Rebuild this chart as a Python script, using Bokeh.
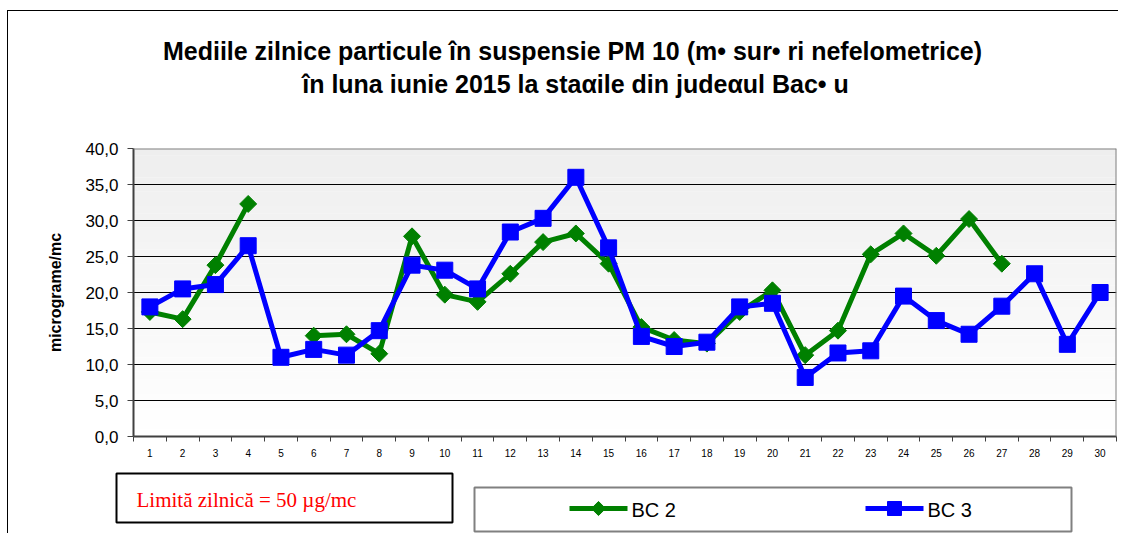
import math
from bokeh.plotting import figure
from bokeh.layouts import column, row
from bokeh.models import Range1d, FixedTicker, CustomJSTickFormatter, BoxAnnotation, Span
from bokeh.core.properties import value
from bokeh.embed import file_html
from bokeh.resources import INLINE

nan = float("nan")

# ---- data ----
days = list(range(1, 31))
x_labels = [str(d) for d in days]
bc2 = [17.3, 16.3, 23.8, 32.3, nan, 14.0, 14.2, 11.5, 27.8, 19.7,
       18.7, 22.6, 27.0, 28.2, 24.0, 15.2, 13.4, 12.9, 17.3, 20.3,
       11.3, 14.7, 25.3, 28.2, 25.1, 30.2, 24.0, nan, nan, nan]
bc3 = [18.0, 20.5, 21.1, 26.5, 11.0, 12.1, 11.3, 14.7, 23.8, 23.1,
       20.5, 28.4, 30.3, 36.0, 26.2, 13.9, 12.5, 13.1, 18.0, 18.5,
       8.2, 11.6, 11.9, 19.5, 16.1, 14.2, 18.1, 22.6, 12.8, 20.0]
y_ticks = [0, 5, 10, 15, 20, 25, 30, 35, 40]
series_names = ["BC 2", "BC 3"]
title1 = "Mediile zilnice particule în suspensie PM 10 (m\u2022 sur\u2022 ri nefelometrice)"
title2 = "în luna iunie 2015 la staαile din judeαul Bac\u2022 u"
y_title = "micrograme/mc"
limit_text = "Limită zilnică = 50 µg/mc"

GREEN = "#008000"
BLUE = "#0000ff"
FONT = "Liberation Sans"
W = 1110
# page geometry: column offset (margin 7 + border 1)
OFF_X, OFF_Y = 8, 11
FRAME_L, FRAME_R = 133, 1116


def strip_fig(top, bottom, left, right):
    # a decoration strip whose ranges are page pixel coordinates
    f = figure(width=W, height=bottom - top, x_range=Range1d(left, right),
               y_range=Range1d(bottom, top), x_axis_type=None, y_axis_type=None,
               output_backend="svg", toolbar_location=None, min_border=0)
    f.outline_line_color = None
    f.background_fill_color = "white"
    f.border_fill_color = "white"
    return f


# ---- title strip (frame aligned with the chart frame) ----
TOP_A = 100
pC = strip_fig(OFF_Y, TOP_A, FRAME_L, FRAME_R)
pC.text(x=[572, 575], y=[50.7, 83.3], text=[title1, title2], text_font=value(FONT),
        text_font_size="25px", text_font_style="bold", text_color="black",
        text_align="center", text_baseline="alphabetic")

# ---- main chart ----
HA = 366
y0, y1 = y_ticks[0], y_ticks[-1]
x0, x1 = days[0] - 0.5, days[-1] + 0.5
pA = figure(width=W, height=HA, x_range=Range1d(x0, x1), y_range=Range1d(y0, y1),
            output_backend="svg", toolbar_location=None,
            min_border_left=FRAME_L - OFF_X, min_border_right=W - (FRAME_R - OFF_X),
            min_border_top=148 - TOP_A, min_border_bottom=TOP_A + HA - 436)
pA.outline_line_color = None
pA.background_fill_color = "white"
pA.border_fill_color = "white"

# gradient background
n = 40
for i in range(n):
    lo = y0 + (y1 - y0) * i / n
    hi = y0 + (y1 - y0) * (i + 1) / n
    frac = (i + 0.5) / n
    c = int(round(255 - (255 - 238) * frac))
    pA.add_layout(BoxAnnotation(bottom=lo, top=hi, fill_color="#%02x%02x%02x" % (c, c, c),
                                fill_alpha=1, line_color=None, level="image"))

pA.xgrid.visible = False
pA.ygrid.ticker = FixedTicker(ticks=y_ticks[1:-1])
pA.ygrid.grid_line_color = "black"
pA.ygrid.grid_line_width = 1

# frame top / right edges
pA.add_layout(Span(location=y1, dimension="width", line_color="#808080", line_width=2))
pA.add_layout(Span(location=x1, dimension="height", line_color="#808080", line_width=2))

pA.line(days, bc2, line_color=GREEN, line_width=5, line_join="round")
pA.scatter(days, bc2, marker="square", angle=math.pi / 4, size=12,
           fill_color=GREEN, line_color=GREEN)
pA.line(days, bc3, line_color=BLUE, line_width=5, line_join="round")
pA.scatter(days, bc3, marker="square", size=16, fill_color=BLUE, line_color=BLUE)

xa = pA.xaxis[0]
xa.ticker = FixedTicker(ticks=days, minor_ticks=[d - 0.5 for d in days] + [days[-1] + 0.5])
xa.major_label_overrides = {d: s for d, s in zip(days, x_labels)}
xa.major_tick_line_color = None
xa.major_tick_in = 0
xa.major_tick_out = 0
xa.minor_tick_in = 0
xa.minor_tick_out = 5
xa.minor_tick_line_color = "#404040"
xa.axis_line_color = "#404040"
xa.axis_line_width = 2
xa.major_label_standoff = 7
xa.major_label_text_font = FONT
xa.major_label_text_font_size = "10px"
xa.major_label_text_color = "black"

ya = pA.yaxis[0]
ya.ticker = FixedTicker(ticks=y_ticks)
ya.formatter = CustomJSTickFormatter(code="return tick.toFixed(1).replace('.', ',');")
ya.major_tick_in = 0
ya.major_tick_out = 6
ya.major_tick_line_color = "#404040"
ya.minor_tick_line_color = None
ya.axis_line_color = "#404040"
ya.axis_line_width = 2
ya.major_label_standoff = 9
ya.major_label_text_font = FONT
ya.major_label_text_font_size = "17px"
ya.major_label_text_color = "black"
ya.axis_label = y_title
ya.axis_label_text_font = FONT
ya.axis_label_text_font_size = "16px"
ya.axis_label_text_font_style = "bold"
ya.axis_label_text_color = "black"
ya.axis_label_standoff = 18

# ---- legend strip (nested in a row so its frame spans its whole canvas) ----
pB = strip_fig(TOP_A + HA, 533, OFF_X, OFF_X + W)
pB.quad(left=[116], right=[452], top=[473], bottom=[522], fill_color="white",
        line_color="black", line_width=2)
pB.text(x=[136], y=[499], text=[limit_text], text_font=value("Liberation Serif"),
        text_font_size="21px", text_color="#ff0000", text_baseline="middle", text_align="left")

pB.quad(left=[474], right=[1071], top=[487], bottom=[531], fill_color="white",
        line_color="#808080", line_width=2)
pB.segment(x0=[569], y0=[508], x1=[627], y1=[508], line_color=GREEN, line_width=5)
pB.scatter(x=[598], y=[508], marker="square", angle=math.pi / 4, size=10,
           fill_color=GREEN, line_color=GREEN)
pB.text(x=[631], y=[509], text=[series_names[0]], text_font=value(FONT), text_font_size="20px",
        text_color="black", text_baseline="middle", text_align="left")
pB.segment(x0=[865], y0=[508], x1=[923], y1=[508], line_color=BLUE, line_width=5)
pB.scatter(x=[894], y=[508], marker="square", size=14, fill_color=BLUE, line_color=BLUE)
pB.text(x=[927], y=[509], text=[series_names[1]], text_font=value(FONT), text_font_size="20px",
        text_color="black", text_baseline="middle", text_align="left")

layout = column(pC, pA, row(pB), styles={"border-left": "1px solid black",
                                          "border-top": "1px solid black",
                                          "margin-left": "7px", "margin-top": "10px"})

open("out.html", "w").write(file_html(layout, INLINE))
